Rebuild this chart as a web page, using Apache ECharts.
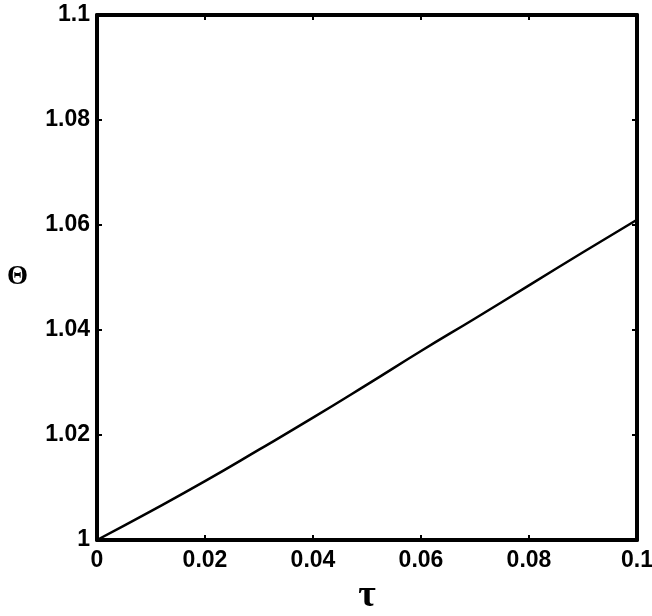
<!DOCTYPE html>
<html>
<head>
<meta charset="utf-8">
<script src="https://cdn.jsdelivr.net/npm/echarts@6/dist/echarts.min.js"></script>
<style>html,body{margin:0;padding:0;background:#fff;}#c{width:652px;height:616px;}</style>
</head>
<body>
<div id="c"></div>
<script>
const tauValues = [0, 0.01, 0.02, 0.03, 0.04, 0.05, 0.06, 0.07, 0.08, 0.09, 0.1];
const thetaValues = [1, 1.0055, 1.0112, 1.0172, 1.0233, 1.0296, 1.0360, 1.0422, 1.0485, 1.0548, 1.0610];
const xTitle = 'τ';
const yTitle = 'Θ';

const chart = echarts.init(document.getElementById('c'));
const font = '"Liberation Sans", Arial, sans-serif';
const serif = '"Liberation Serif", "Times New Roman", serif';
const lineStyle = {color: '#000', width: 4};
const tickStyle = {show: true, inside: true, length: 5, lineStyle: {color: '#000', width: 2}};
chart.setOption({
  animation: false,
  backgroundColor: '#fff',
  grid: {left: 97, right: 15, top: 15, bottom: 76, containLabel: false, outerBoundsMode: 'none'},
  xAxis: [{
    type: 'value', min: 0, max: 0.1, interval: 0.02,
    axisLine: {show: true, onZero: false, lineStyle: lineStyle},
    axisTick: tickStyle,
    splitLine: {show: false},
    axisLabel: {color: '#000', fontFamily: font, fontWeight: 'bold', fontSize: 23, margin: 9,
      formatter: v => String(+v.toFixed(2))},
    name: xTitle, nameLocation: 'middle', nameGap: 35,
    nameTextStyle: {color: '#000', fontFamily: serif, fontWeight: 'bold', fontSize: 38}
  }, {
    type: 'value', min: 0, max: 0.1, interval: 0.02, position: 'top',
    axisLine: {show: true, onZero: false, lineStyle: lineStyle},
    axisTick: tickStyle, axisLabel: {show: false}, splitLine: {show: false}
  }],
  yAxis: [{
    type: 'value', min: 1, max: 1.1, interval: 0.02,
    axisLine: {show: true, onZero: false, lineStyle: lineStyle},
    axisTick: tickStyle,
    splitLine: {show: false},
    axisLabel: {color: '#000', fontFamily: font, fontWeight: 'bold', fontSize: 23, margin: 7,
      formatter: v => String(+v.toFixed(2))},
    name: yTitle, nameLocation: 'middle', nameGap: 69, nameRotate: 0,
    nameTextStyle: {color: '#000', fontFamily: serif, fontWeight: 'bold', fontSize: 27}
  }, {
    type: 'value', min: 1, max: 1.1, interval: 0.02, position: 'right',
    axisLine: {show: true, onZero: false, lineStyle: lineStyle},
    axisTick: tickStyle, axisLabel: {show: false}, splitLine: {show: false}
  }],
  series: [{
    type: 'line',
    data: tauValues.map((t, i) => [t, thetaValues[i]]),
    smooth: true,
    showSymbol: false,
    lineStyle: {color: '#000', width: 2.5}
  }]
});
</script>
</body>
</html>
